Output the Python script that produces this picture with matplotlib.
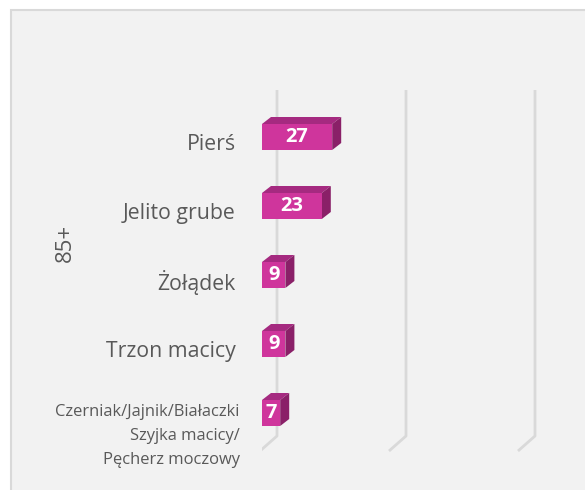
import matplotlib.pyplot as plt
from matplotlib.patches import Polygon, Rectangle
from matplotlib.transforms import ScaledTranslation

categories = [
    "Pierś",
    "Jelito grube",
    "Żołądek",
    "Trzon macicy",
    "Czerniak/Jajnik/Białaczki\nSzyjka macicy/\nPęcherz moczowy",
]
values = [27, 23, 9, 9, 7]
group_label = "85+"
gridline_values = [0, 50, 100]

W, H, DPI = 585, 490, 100
FRONT = "#cf359c"
TOP = "#a52a80"
SIDE = "#8a2068"
GRID = "#d9d9d9"
TEXT = "#595959"

plt.rcParams["font.family"] = ["Open Sans", "DejaVu Sans"]

fig = plt.figure(figsize=(W / DPI, H / DPI), dpi=DPI, facecolor="white")
fig.patches.append(
    Rectangle((11 / W, -0.05), 1.0, (H - 10) / H + 0.05, transform=fig.transFigure,
              facecolor="#f2f2f2", edgecolor=GRID, linewidth=1.5, zorder=-5)
)

# axes: front plane of value 0 at pixel x=262, category spacing 69 px
px_per_unit = 2.6
row_px = 69
left_px, top_px, bottom_px = 262, 90, 470
ax = fig.add_axes([left_px / W, 1 - bottom_px / H, (W - left_px) / W, (bottom_px - top_px) / H])
ax.set_facecolor("none")
ax.set_xlim(0, (W - left_px) / px_per_unit)
y_top = -(137 - top_px) / row_px
y_bot = (bottom_px - 137) / row_px
ax.set_ylim(y_bot, y_top)
for s in ax.spines.values():
    s.set_visible(False)
ax.set_xticks([])


def ux(px):
    return px / px_per_unit


def uy(px):
    return px / row_px


# gridlines on the back wall, with floor diagonals
grid_scale = 2.58 / px_per_unit
for v in gridline_values:
    xb = ux(15) + v * grid_scale
    ax.plot([xb, xb, xb - ux(17)], [y_top, uy(436 - 137), uy(451 - 137)],
            color=GRID, lw=2, solid_capstyle="butt", zorder=1)

# 3D bars: front, top and side faces
half = uy(13)
dx, dy = ux(9), uy(7)
for i, v in enumerate(values):
    x0, x1 = 0, v
    yt, yb = i - half, i + half
    ax.add_patch(Polygon([(x0, yt), (x1, yt), (x1 + dx, yt - dy), (x0 + dx, yt - dy)],
                         closed=True, facecolor=TOP, edgecolor="none", zorder=3))
    ax.add_patch(Polygon([(x1, yt), (x1, yb), (x1 + dx, yb - dy), (x1 + dx, yt - dy)],
                         closed=True, facecolor=SIDE, edgecolor="none", zorder=3))
    ax.add_patch(Rectangle((x0, yt), x1 - x0, yb - yt, facecolor=FRONT,
                           edgecolor="none", zorder=4))
    ax.text((x0 + x1) / 2, i, str(v), ha="center", va="center", color="white",
            fontsize=14.5, fontweight="bold", zorder=5)

ax.set_yticks(range(len(categories)))
ax.set_yticklabels(categories[:-1] + [""])
ax.tick_params(axis="y", length=0, pad=19, labelsize=15.3, labelcolor=TEXT)
shift = ScaledTranslation(0, -5 / DPI, fig.dpi_scale_trans)
for lab in ax.get_yticklabels():
    lab.set_transform(lab.get_transform() + shift)
ax.annotate(categories[-1], xy=(0, len(categories) - 1), xycoords=("axes fraction", "data"),
            xytext=(-16, 6.5), textcoords="offset points", ha="right", va="top",
            fontsize=11.9, color=TEXT, linespacing=1.68, multialignment="right")

fig.text(65 / W, 1 - 243 / H, group_label, rotation=90, ha="center", va="center",
         fontsize=16, color=TEXT)

fig.savefig("out.png", dpi=DPI, facecolor="white")
